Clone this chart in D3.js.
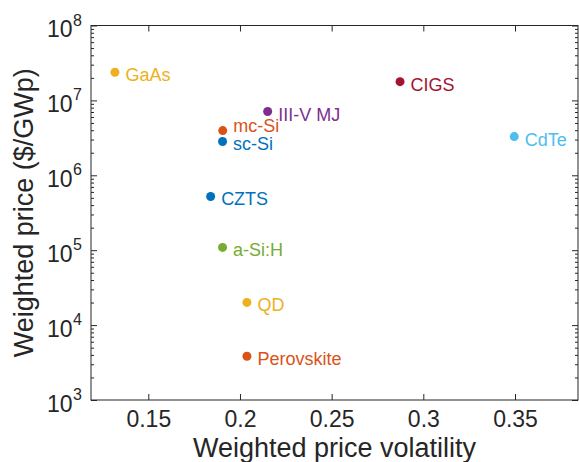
<!DOCTYPE html>
<html>
<head>
<meta charset="utf-8">
<script src="https://cdn.jsdelivr.net/npm/d3@7"></script>
<style>
  html, body { margin: 0; padding: 0; background: #fff; }
  svg { display: block; font-family: "Liberation Sans", Arial, Helvetica, sans-serif; }
</style>
</head>
<body>
<svg id="chart" width="579" height="462"></svg>
<script>
// ---- data ----
const materials = ["GaAs", "CIGS", "CdTe", "III-V MJ", "mc-Si", "sc-Si", "CZTS", "a-Si:H", "QD", "Perovskite"];
const volatility = [0.1318, 0.2873, 0.3496, 0.2151, 0.1906, 0.1905, 0.1840, 0.1905, 0.2038, 0.2038];
const price = [2.38e7, 1.78e7, 3.29e6, 7.1e6, 3.95e6, 2.83e6, 5.22e5, 1.09e5, 2.01e4, 3.84e3];
const colors = ["#EDB120", "#A2142F", "#4DBEEE", "#7E2F8E", "#D95319", "#0072BD", "#0072BD", "#77AC30", "#EDB120", "#D95319"];
const xTicks = [0.15, 0.2, 0.25, 0.3, 0.35];
const xTickLabels = ["0.15", "0.2", "0.25", "0.3", "0.35"];
const yTicks = [1e3, 1e4, 1e5, 1e6, 1e7, 1e8];
const yTickExponents = ["3", "4", "5", "6", "7", "8"];
const xTitle = "Weighted price volatility";
const yTitle = "Weighted price ($/GWp)";

// ---- layout ----
const svg = d3.select("#chart");
const pLeft = 91, pRight = 578, pTop = 25.5, pBottom = 400;
const axisColor = "#262626";

const x = d3.scaleLinear().domain([0.11875, 0.38436]).range([pLeft, pRight]);
const y = d3.scaleLog().domain([1e3, 1e8]).range([pBottom, pTop]);

// minor ticks for log axis
const yMinor = [];
for (let e = 3; e < 8; e++) for (let m = 2; m <= 9; m++) yMinor.push(m * Math.pow(10, e));

const g = svg.append("g");

// box
g.append("rect")
  .attr("x", pLeft).attr("y", pTop)
  .attr("width", pRight - pLeft).attr("height", pBottom - pTop)
  .attr("fill", "none").attr("stroke", axisColor).attr("stroke-width", 1);

// bottom axis (ticks inward)
const xAxisB = d3.axisBottom(x).tickValues(xTicks).tickSize(-6).tickFormat((d, i) => xTickLabels[i]);
const gxb = g.append("g").attr("transform", `translate(0,${pBottom})`).call(xAxisB);
gxb.select(".domain").remove();
gxb.selectAll(".tick line").attr("stroke", axisColor);
gxb.selectAll(".tick text").attr("fill", axisColor).attr("font-size", 23)
  .attr("font-family", "Liberation Sans, Arial, sans-serif")
  .attr("y", 27.3).attr("dy", null);

// top axis ticks
const xAxisT = d3.axisTop(x).tickValues(xTicks).tickSize(-6).tickFormat("");
const gxt = g.append("g").attr("transform", `translate(0,${pTop})`).call(xAxisT);
gxt.select(".domain").remove();
gxt.selectAll(".tick line").attr("stroke", axisColor);

// left axis major + minor
const yAxisL = d3.axisLeft(y).tickValues(yTicks).tickSize(-6).tickFormat("");
const gyl = g.append("g").attr("transform", `translate(${pLeft},0)`).call(yAxisL);
gyl.select(".domain").remove();
gyl.selectAll(".tick line").attr("stroke", axisColor);
const yAxisLm = d3.axisLeft(y).tickValues(yMinor).tickSize(-3).tickFormat("");
const gylm = g.append("g").attr("transform", `translate(${pLeft},0)`).call(yAxisLm);
gylm.select(".domain").remove();
gylm.selectAll(".tick line").attr("stroke", axisColor);

// right axis major + minor
const yAxisR = d3.axisRight(y).tickValues(yTicks).tickSize(-6).tickFormat("");
const gyr = g.append("g").attr("transform", `translate(${pRight},0)`).call(yAxisR);
gyr.select(".domain").remove();
gyr.selectAll(".tick line").attr("stroke", axisColor);
const yAxisRm = d3.axisRight(y).tickValues(yMinor).tickSize(-3).tickFormat("");
const gyrm = g.append("g").attr("transform", `translate(${pRight},0)`).call(yAxisRm);
gyrm.select(".domain").remove();
gyrm.selectAll(".tick line").attr("stroke", axisColor);

// y tick labels: 10^n
const yl = g.append("g").selectAll("g").data(yTicks).join("g")
  .attr("transform", d => `translate(0,${y(d)})`);
yl.append("text")
  .attr("x", 72.5).attr("y", 11.5)
  .attr("text-anchor", "end").attr("font-size", 23).attr("fill", axisColor)
  .text("10");
yl.append("text")
  .attr("x", 73).attr("y", 0)
  .attr("text-anchor", "start").attr("font-size", 16).attr("fill", axisColor)
  .text((d, i) => yTickExponents[i]);

// axis titles
g.append("text")
  .attr("x", (pLeft + pRight) / 2).attr("y", 457)
  .attr("text-anchor", "middle").attr("font-size", 27).attr("fill", axisColor)
  .text(xTitle);
g.append("text")
  .attr("transform", `translate(33,${(pTop + pBottom) / 2}) rotate(-90)`)
  .attr("text-anchor", "middle").attr("font-size", 27).attr("fill", axisColor)
  .text(yTitle);

// points
const pts = materials.map((m, i) => ({ m, vx: volatility[i], vy: price[i], c: colors[i] }));
g.append("g").selectAll("circle").data(pts).join("circle")
  .attr("cx", d => x(d.vx)).attr("cy", d => y(d.vy))
  .attr("r", 4.5).attr("fill", d => d.c);

// labels
const labelNudge = { "mc-Si": -8 };
g.append("g").selectAll("text").data(pts).join("text")
  .attr("x", d => x(d.vx) + 10.5)
  .attr("y", d => y(d.vy) + 9 + (labelNudge[d.m] || 0))
  .attr("font-size", 18).attr("fill", d => d.c)
  .text(d => d.m);
</script>
</body>
</html>
